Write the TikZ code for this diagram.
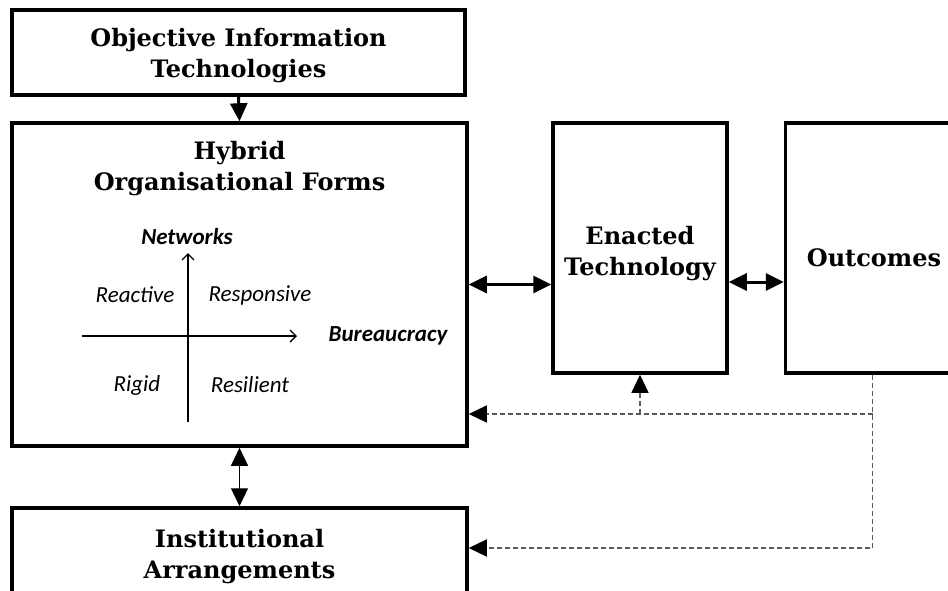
\documentclass[tikz,border=0pt]{standalone}
\usepackage{fontspec}
\setmainfont{DejaVu Serif}
\newfontfamily\quadfont{Carlito}
\usetikzlibrary{arrows.meta,calc}
\begin{document}
\begin{tikzpicture}[x=1pt,y=-1pt,
  box/.style={draw,line width=3.5pt,inner sep=0pt},
  title/.style={font=\bfseries\fontsize{24}{31}\selectfont,align=center,inner sep=0pt},
  quad/.style={font=\quadfont\itshape\fontsize{23}{26}\selectfont,inner sep=0pt},
  quadb/.style={font=\quadfont\bfseries\itshape\fontsize{23}{26}\selectfont,inner sep=0pt},
  bigtip/.tip={Triangle[length=18pt,width=17pt,color=black]},
  conn/.style={line width=3pt,bigtip-bigtip},
  thinconn/.style={line width=1.2pt,bigtip-bigtip},
  fb/.style={dash pattern=on 5pt off 3pt,line width=1.1pt,draw=black!65,-bigtip},
  axis/.style={line width=1.3pt,-{Straight Barb[length=6pt,width=12pt]}}]
\useasboundingbox (0,0) rectangle (948,590);
\clip (0,0) rectangle (948,590);
\fill[white] (0,0) rectangle (948,590);
% boxes
\node[box,minimum width=453pt,minimum height=85pt] (obj) at (238.5,52.5) {};
\node[title] (objt) at (238.5,56) {Objective Information\\Technologies};
\node[box,minimum width=455pt,minimum height=323pt] (hyb) at (239.5,284.5) {};
\node[title] (hybt) at (239.5,169) {Hybrid\\Organisational Forms};
\node[box,minimum width=174pt,minimum height=250pt] (ent) at (640,248) {};
\node[title] (entt) at (640,254) {Enacted\\Technology};
\node[box,minimum width=174pt,minimum height=250pt] (out) at (872.5,248) {};
\node[title] (outt) at (874,258) {Outcomes};
\node[box,minimum width=455pt,minimum height=110pt] (inst) at (239.5,563) {};
\node[title] (instt) at (239.5,557) {Institutional\\Arrangements};
% quadrant
\coordinate (vb) at (188,422);
\coordinate (vt) at (188,253);
\coordinate (hl) at (82,336);
\coordinate (hr) at (297,336);
\draw[axis] (vb) -- (vt);
\draw[axis] (hl) -- (hr);
\node[quadb] (netw) at (187,237) {Networks};
\node[quadb] (bur) at (388,336) {Bureaucracy};
\node[quad] (reac) at (135,295) {Reactive};
\node[quad] (resp) at (260,295) {Responsive};
\node[quad] (rig) at (137,385) {Rigid};
\node[quad] (resi) at (250,385) {Resilient};
% connectors
\draw[line width=3pt,-bigtip] (obj.south) -- (hyb.north);
\draw[conn] (hyb.east) -- (hyb.east -| ent.west);
\draw[conn] ([yshift=-34pt]ent.east) -- ([yshift=-34pt]out.west);
\draw[thinconn] (hyb.south) -- (inst.north);
% feedback
\coordinate (d1) at (872,414);
\coordinate (d2) at (872,548);
\draw[fb] (out.south) -- (out.south |- d2) -- (inst.east |- d2);
\draw[fb] (out.south |- d1) -- (hyb.east |- d1);
\draw[fb] (ent.south |- d1) -- (ent.south);
\end{tikzpicture}
\end{document}
